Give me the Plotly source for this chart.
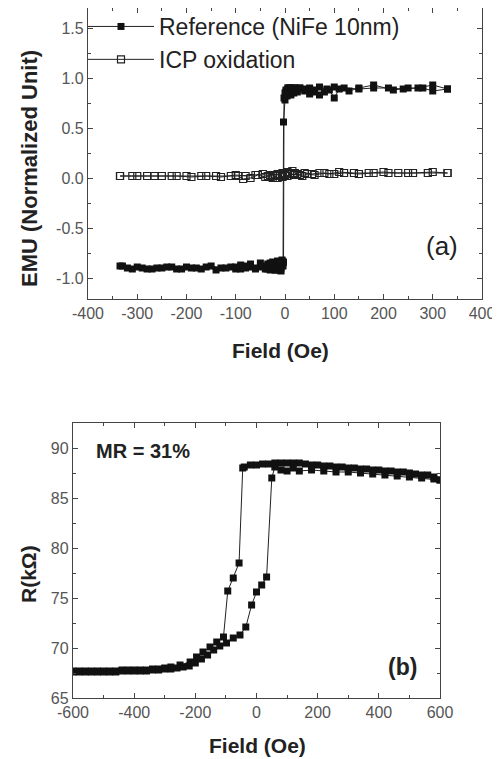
import plotly.graph_objects as go

# ---------------- Panel (a) data ----------------
ref_up_x = [-330, -310, -290, -270, -250, -230, -210, -190, -170, -150, -130, -110, -100, -90, -80, -70,
            -60, -50, -40, -35, -30, -25, -20, -15, -12, -10, -8, -6, -4, -3, 0, 2, 4, 6, 8, 10, 12, 15,
            18, 20, 25, 30, 40, 50, 60, 70, 80, 90, 100, 110, 130, 150, 180, 220, 250, 280, 300, 330]
ref_up_y = [-0.88, -0.91, -0.90, -0.91, -0.90, -0.89, -0.91, -0.90, -0.91, -0.88, -0.90, -0.89, -0.91, -0.87,
            -0.90, -0.86, -0.90, -0.85, -0.91, -0.86, -0.92, -0.84, -0.92, -0.83, -0.92, -0.84, -0.93, -0.83,
            -0.85, 0.56, 0.78, 0.86, 0.82, 0.90, 0.84, 0.90, 0.83, 0.90, 0.85, 0.90, 0.86, 0.90, 0.87, 0.84,
            0.86, 0.83, 0.86, 0.88, 0.80, 0.89, 0.87, 0.90, 0.93, 0.88, 0.90, 0.90, 0.87, 0.89]
ref_down_x = [330, 300, 270, 240, 210, 180, 150, 120, 100, 85, 70, 60, 50, 40, 30, 25, 20, 15, 10, 8, 6, 4,
              2, 0, -2, -3, -4, -6, -8, -10, -12, -15, -18, -20, -25, -30, -35, -40, -50, -60, -70, -80,
              -90, -100, -120, -140, -160, -180, -200, -220, -240, -260, -280, -300, -320, -335]
ref_down_y = [0.89, 0.93, 0.90, 0.89, 0.90, 0.90, 0.89, 0.90, 0.91, 0.89, 0.91, 0.88, 0.90, 0.89, 0.90, 0.88,
              0.90, 0.87, 0.90, 0.88, 0.90, 0.86, 0.88, 0.85, 0.80, -0.84, -0.88, -0.82, -0.90, -0.85, -0.91,
              -0.84, -0.92, -0.86, -0.90, -0.85, -0.91, -0.88, -0.89, -0.91, -0.89, -0.88, -0.91, -0.89,
              -0.90, -0.92, -0.89, -0.90, -0.89, -0.91, -0.89, -0.90, -0.91, -0.89, -0.90, -0.88]

icp_up_x = [-335, -310, -280, -250, -220, -190, -160, -130, -100, -80, -60, -45, -35, -30, -25, -20, -15,
            -10, -5, 0, 5, 10, 15, 20, 30, 40, 55, 70, 90, 110, 140, 170, 200, 230, 260, 300, 330]
icp_up_y = [0.02, 0.02, 0.02, 0.02, 0.02, 0.01, 0.02, 0.01, 0.03, 0.02, 0.03, 0.04, 0.02, 0.01, 0.03, 0.00,
            0.04, 0.02, 0.05, 0.03, 0.06, 0.04, 0.07, 0.05, 0.03, 0.05, 0.04, 0.05, 0.04, 0.06, 0.05, 0.05,
            0.06, 0.05, 0.05, 0.06, 0.05]
icp_down_x = [330, 290, 250, 210, 180, 150, 120, 100, 80, 60, 45, 35, 25, 18, 10, 5, 0, -5, -10, -15, -20,
              -25, -30, -40, -55, -70, -85, -95, -110, -140, -170, -200, -230, -265, -300, -335]
icp_down_y = [0.05, 0.05, 0.05, 0.05, 0.05, 0.04, 0.05, 0.04, 0.05, 0.03, 0.04, 0.02, 0.04, 0.03, 0.05, 0.02,
              0.04, 0.01, 0.03, 0.00, 0.02, 0.00, 0.03, 0.01, 0.03, 0.00, -0.01, 0.02, 0.02, 0.02, 0.02,
              0.02, 0.02, 0.02, 0.02, 0.02]

# ---------------- Panel (b) data ----------------
mr_down_x = [600, 580, 560, 540, 520, 500, 480, 460, 440, 420, 400, 380, 360, 340, 320, 300, 280, 260, 240,
             220, 200, 180, 160, 140, 120, 100, 80, 60, 40, 20, 0, -20, -40, -45, -57, -76, -94, -108, -130,
             -152, -175, -196, -217, -250, -280, -300, -320, -340, -360, -380, -400, -420, -440, -460, -480,
             -500, -520, -540, -560, -580, -600]
mr_down_y = [86.8, 87.1, 87.3, 87.3, 87.4, 87.5, 87.6, 87.6, 87.7, 87.7, 87.8, 87.8, 87.9, 87.9, 88.0, 88.0,
             88.1, 88.1, 88.2, 88.2, 88.3, 88.3, 88.4, 88.5, 88.5, 88.5, 88.5, 88.5, 88.4, 88.4, 88.3, 88.3,
             88.1, 88.0, 78.5, 77.0, 75.7, 71.1, 70.6, 70.1, 69.6, 69.1, 68.6, 68.3, 68.1, 68.0, 67.9, 67.9,
             67.8, 67.8, 67.8, 67.8, 67.8, 67.7, 67.7, 67.7, 67.7, 67.7, 67.7, 67.7, 67.7]
mr_up_x = [-600, -580, -560, -540, -520, -500, -480, -460, -440, -420, -400, -380, -360, -340, -320, -300,
           -280, -260, -240, -220, -200, -180, -160, -140, -120, -98, -76, -54, -35, -16, 0, 17, 33, 50, 60,
           80, 100, 120, 140, 180, 220, 260, 300, 340, 380, 420, 460, 500, 540, 580, 600]
mr_up_y = [67.6, 67.6, 67.6, 67.6, 67.6, 67.6, 67.6, 67.6, 67.7, 67.7, 67.7, 67.7, 67.7, 67.8, 67.8, 67.9,
           67.9, 68.0, 68.1, 68.2, 68.5, 68.9, 69.3, 69.8, 70.2, 70.5, 71.0, 71.3, 72.1, 74.3, 75.6, 76.3,
           77.1, 87.0, 88.1, 87.8, 87.7, 88.0, 87.7, 87.8, 87.7, 87.6, 87.6, 87.5, 87.4, 87.3, 87.2, 87.1,
           87.0, 86.9, 86.8]

# ---------------- ticks ----------------
a_xticks = [-400, -300, -200, -100, 0, 100, 200, 300, 400]
a_xticklabels = ["-400", "-300", "-200", "-100", "0", "100", "200", "300", "400"]
a_yticks = [-1.0, -0.5, 0.0, 0.5, 1.0, 1.5]
a_yticklabels = ["-1.0", "-0.5", "0.0", "0.5", "1.0", "1.5"]
b_xticks = [-600, -400, -200, 0, 200, 400, 600]
b_xticklabels = ["-600", "-400", "-200", "0", "200", "400", "600"]
b_yticks = [65, 70, 75, 80, 85, 90]
b_yticklabels = ["65", "70", "75", "80", "85", "90"]

FONT = "Liberation Sans, Arial, Helvetica, sans-serif"
TICKFONT = dict(family=FONT, size=16, color="#555555")

# The page body has an 8 px margin, so the figure is drawn 8 px in from the window corner.
OFF = 8
W, H = 500 - OFF, 759 - OFF


def px(x):
    return (x - OFF) / W


def py(y):
    return 1 - (y - OFF) / H


fig = go.Figure()

fig.add_trace(go.Scatter(
    x=ref_up_x + ref_down_x, y=ref_up_y + ref_down_y, mode="lines+markers",
    name="Reference (NiFe 10nm)",
    line=dict(color="#222222", width=1),
    marker=dict(symbol="square", size=7, color="#111111", line=dict(width=0)),
    xaxis="x", yaxis="y"))
fig.add_trace(go.Scatter(
    x=icp_up_x + icp_down_x, y=icp_up_y + icp_down_y, mode="lines+markers",
    name="ICP oxidation",
    line=dict(color="#222222", width=1),
    marker=dict(symbol="square-open", size=7, color="#222222", line=dict(width=1.2)),
    xaxis="x", yaxis="y"))

fig.add_trace(go.Scatter(
    x=mr_down_x + mr_up_x, y=mr_down_y + mr_up_y, mode="lines+markers",
    name="MR", showlegend=False,
    line=dict(color="#222222", width=1),
    marker=dict(symbol="square", size=7, color="#111111", line=dict(width=0)),
    xaxis="x2", yaxis="y2"))

axis_common = dict(showline=True, linecolor="#444444", linewidth=1.3, mirror="allticks",
                   ticks="inside", ticklen=5, tickwidth=1.2, tickcolor="#444444",
                   showgrid=False, zeroline=False, tickfont=TICKFONT)

fig.update_layout(
    width=W, height=H,
    margin=dict(l=0, r=0, t=0, b=0, autoexpand=False),
    paper_bgcolor="white", plot_bgcolor="white",
    xaxis=dict(domain=[px(88), px(482)], anchor="y", range=[-400, 400],
               tickvals=a_xticks, ticktext=a_xticklabels,
               minor=dict(dtick=50, ticks="inside", ticklen=3, tickcolor="#444444"), **axis_common),
    yaxis=dict(domain=[py(299), 1.0], anchor="x", range=[-1.21, 1.70],
               tickvals=a_yticks, ticktext=a_yticklabels,
               minor=dict(dtick=0.25, ticks="inside", ticklen=3, tickcolor="#444444"), **axis_common),
    xaxis2=dict(domain=[px(73), px(440)], anchor="y2", range=[-600, 600],
                tickvals=b_xticks, ticktext=b_xticklabels,
                minor=dict(dtick=100, ticks="inside", ticklen=3, tickcolor="#444444"), **axis_common),
    yaxis2=dict(domain=[py(698), py(423)], anchor="x2", range=[65, 92.5],
                tickvals=b_yticks, ticktext=b_yticklabels,
                minor=dict(dtick=2.5, ticks="inside", ticklen=3, tickcolor="#444444"), **axis_common),
    legend=dict(x=px(83), y=py(5), xanchor="left", yanchor="top", bgcolor="rgba(0,0,0,0)",
                font=dict(family=FONT, size=23, color="#222222"), itemwidth=66,
                tracegroupgap=0),
    showlegend=True,
)


def ann(text, x, y, size, bold=False, angle=0, color="#222222"):
    fig.add_annotation(text=f"<b>{text}</b>" if bold else text, x=px(x), y=py(y),
                       xref="paper", yref="paper", xanchor="center", yanchor="middle",
                       showarrow=False, textangle=angle,
                       font=dict(family=FONT, size=size, color=color))


ann("EMU (Normalized Unit)", 30, 169, 22, bold=True, angle=-90)
ann("Field (Oe)", 280, 350, 21, bold=True)
ann("(a)", 442, 246, 26)
ann("R(kΩ)", 28, 574, 21, bold=True, angle=-90)
ann("Field (Oe)", 257, 745, 21, bold=True)
ann("MR = 31%", 143, 451, 20, bold=True)
ann("(b)", 402, 667, 23, bold=True)

fig.write_html("out.html")
